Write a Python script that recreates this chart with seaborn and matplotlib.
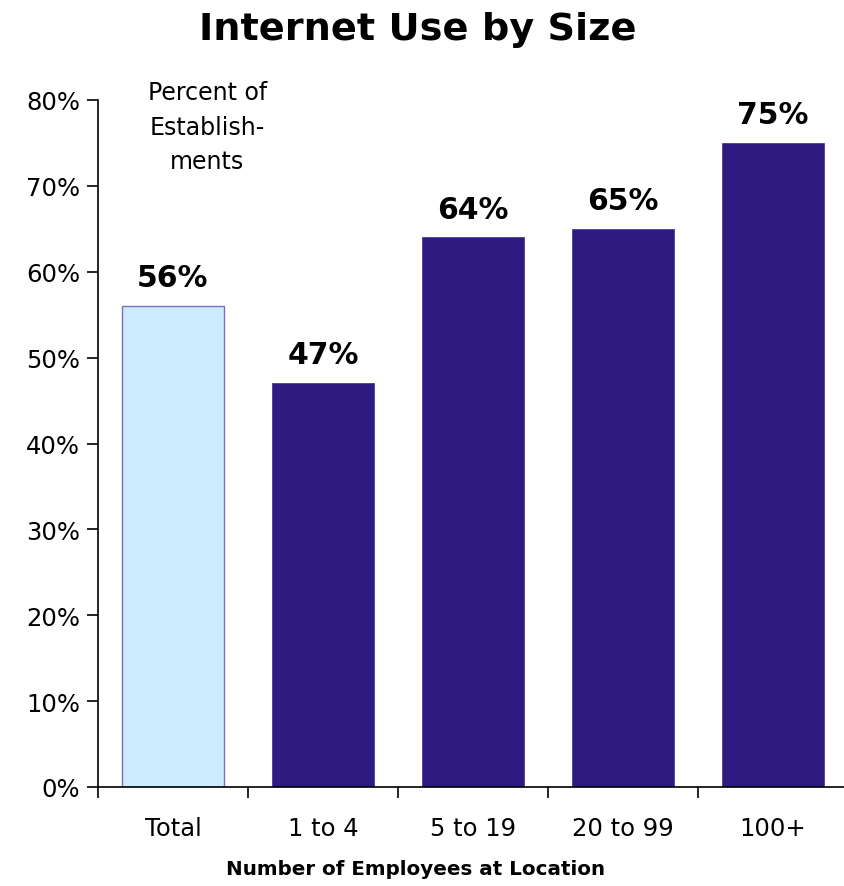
import matplotlib
matplotlib.use("Agg")
import matplotlib.pyplot as plt
import seaborn as sns
import pandas as pd
from matplotlib.ticker import FixedLocator, PercentFormatter

categories = ["Total", "1 to 4", "5 to 19", "20 to 99", "100+"]
values = [56, 47, 64, 65, 75]
bar_colors = ["#CCEBFF", "#2E1A80", "#2E1A80", "#2E1A80", "#2E1A80"]
y_ticks = [0, 10, 20, 30, 40, 50, 60, 70, 80]

sns.set_theme(style="white")
plt.rcParams["font.family"] = ["DejaVu Sans"]

df = pd.DataFrame({"size": categories, "pct": values})

fig = plt.figure(figsize=(8.45, 8.87), dpi=100)
ax = fig.add_axes([98 / 845, 99 / 887, 750 / 845, 687 / 887])

sns.barplot(data=df, x="size", y="pct", hue="size", palette=bar_colors,
            legend=False, width=0.68, ax=ax, saturation=1)

for patch, c in zip(ax.patches, bar_colors):
    if c == "#CCEBFF":
        patch.set_edgecolor("#7A70C0")
        patch.set_linewidth(1.0)
    else:
        patch.set_edgecolor("#4A3A99")
        patch.set_linewidth(0.6)

for i, v in enumerate(values):
    ax.annotate(f"{v}%", (i, v), xytext=(0, 10), textcoords="offset points",
                ha="center", va="bottom", fontsize=21.5, fontweight="bold",
                color="black")

ax.set_xlim(-0.5, 4.5)
ax.set_ylim(0, 80)
ax.yaxis.set_major_locator(FixedLocator(y_ticks))
ax.yaxis.set_major_formatter(PercentFormatter(decimals=0))

ax.xaxis.set_major_locator(FixedLocator([i - 0.5 for i in range(len(categories) + 1)]))
ax.xaxis.set_minor_locator(FixedLocator(list(range(len(categories)))))
ax.set_xticklabels([], minor=False)
ax.set_xticklabels(categories, minor=True)
ax.tick_params(axis="x", which="major", direction="out", length=8, width=1.2,
               color="black", bottom=True)
ax.tick_params(axis="x", which="minor", length=0, pad=21, labelsize=17.5,
               labelcolor="black")
ax.tick_params(axis="y", direction="out", length=8, width=1.2, color="black",
               left=True, labelsize=17.5, labelcolor="black", pad=5)

for side in ["top", "right"]:
    ax.spines[side].set_visible(False)
for side in ["left", "bottom"]:
    ax.spines[side].set_color("black")
    ax.spines[side].set_linewidth(1.2)

ax.set_xlabel("")
ax.set_ylabel("")
fig.text(416 / 845, 1 - 870 / 887, "Number of Employees at Location",
         ha="center", va="center", fontsize=14.3, fontweight="bold",
         color="black")

ax.text(0.23, 82.3, "Percent of\nEstablish-\nments", ha="center", va="top",
        fontsize=17, color="black", linespacing=1.55, clip_on=False)

fig.suptitle("Internet Use by Size", x=418 / 845, y=1 - 12 / 887, va="top",
             fontsize=27.5, fontweight="bold", color="black")

fig.savefig("out.png", dpi=100, facecolor="white")
